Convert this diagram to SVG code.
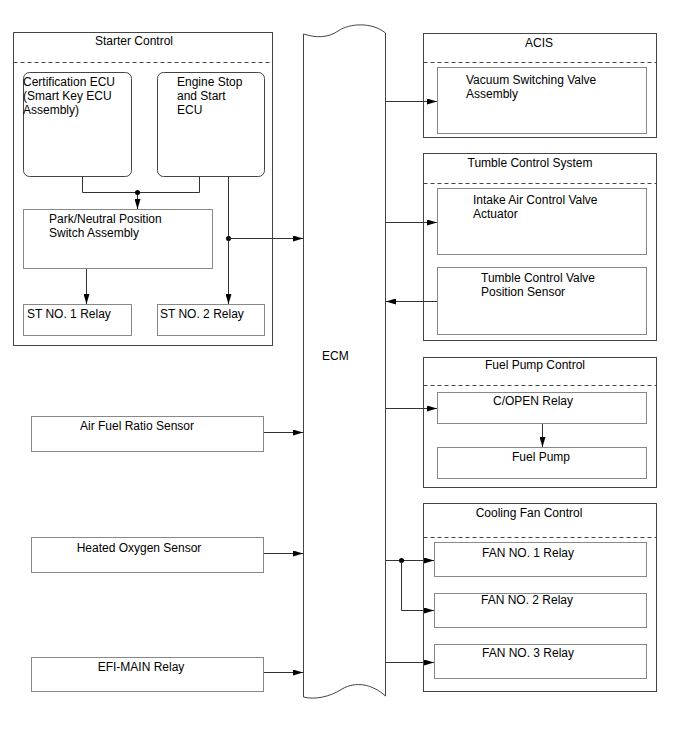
<svg xmlns="http://www.w3.org/2000/svg" width="688" height="755" viewBox="0 0 688 755">
<style>
text{font-family:"Liberation Sans",Arial,sans-serif;font-size:12px;fill:#000}
.c{text-anchor:middle}
.grp{fill:#fff;stroke:#444;stroke-width:1}
.dash{stroke:#444;stroke-width:1;stroke-dasharray:4,3;fill:none}
.box{fill:#fff;stroke:#888;stroke-width:1}
.rbox{fill:#fff;stroke:#444;stroke-width:1}
.ln{stroke:#333;stroke-width:1;fill:none}
.dot{fill:#000}
</style>
<defs>
<marker id="ah" viewBox="0 0 10 6" refX="10" refY="3" markerWidth="10" markerHeight="6" markerUnits="userSpaceOnUse" orient="auto">
<path d="M0,0 L10,3 L0,6 z" fill="#000"/>
</marker>
</defs>
<rect width="688" height="755" fill="#fff"/>

<g id="starter-control">
<rect class="grp" x="13.5" y="32.5" width="259" height="313"/>
<line class="dash" x1="13.5" y1="62.5" x2="272.5" y2="62.5"/>
<text class="c" x="134" y="45">Starter Control</text>
</g>
<g id="cert-ecu">
<rect class="rbox" x="23.5" y="72.5" width="108" height="104" rx="6"/>
<text x="23" y="86">Certification ECU</text>
<text x="23" y="100">(Smart Key ECU</text>
<text x="23" y="114">Assembly)</text>
</g>
<g id="engine-stop-ecu">
<rect class="rbox" x="157.5" y="72.5" width="107" height="104" rx="6"/>
<text x="177" y="86">Engine Stop</text>
<text x="177" y="100">and Start</text>
<text x="177" y="114">ECU</text>
</g>
<g id="park-neutral">
<rect class="box" x="23.5" y="209.5" width="189" height="59"/>
<text x="49" y="223">Park/Neutral Position</text>
<text x="49" y="237">Switch Assembly</text>
</g>
<g id="st1">
<rect class="box" x="23.5" y="304.5" width="108" height="31"/>
<text x="27" y="318">ST NO. 1 Relay</text>
</g>
<g id="st2">
<rect class="box" x="157.5" y="304.5" width="107" height="31"/>
<text x="160" y="318">ST NO. 2 Relay</text>
</g>

<g id="ecm">
<path d="M303.5,34 C316,38 328,38 338,31 C350,23 372,22 385.5,33 L385.5,696 C372,684 356,681 342,689 C330,697 314,700 303.5,697 Z" fill="#fff" stroke="#444" stroke-width="1"/>
<text x="322" y="360">ECM</text>
</g>

<g id="air-fuel">
<rect class="box" x="31.5" y="416.5" width="232" height="35"/>
<text class="c" x="137" y="430">Air Fuel Ratio Sensor</text>
</g>
<g id="heated-o2">
<rect class="box" x="31.5" y="537.5" width="232" height="35"/>
<text class="c" x="139" y="552">Heated Oxygen Sensor</text>
</g>
<g id="efi-main">
<rect class="box" x="31.5" y="657.5" width="232" height="34"/>
<text class="c" x="141" y="671">EFI-MAIN Relay</text>
</g>

<g id="acis">
<rect class="grp" x="423.5" y="33.5" width="233" height="104"/>
<line class="dash" x1="423.5" y1="62.5" x2="656.5" y2="62.5"/>
<text class="c" x="539" y="47">ACIS</text>
</g>
<g id="vsv">
<rect class="box" x="437.5" y="67.5" width="209" height="66"/>
<text x="466" y="84">Vacuum Switching Valve</text>
<text x="466" y="98">Assembly</text>
</g>

<g id="tumble">
<rect class="grp" x="423.5" y="153.5" width="233" height="187"/>
<line class="dash" x1="423.5" y1="183.5" x2="656.5" y2="183.5"/>
<text class="c" x="530" y="167">Tumble Control System</text>
</g>
<g id="intake-air">
<rect class="box" x="437.5" y="188.5" width="209" height="66"/>
<text x="473" y="204">Intake Air Control Valve</text>
<text x="473" y="218">Actuator</text>
</g>
<g id="tumble-sensor">
<rect class="box" x="437.5" y="267.5" width="209" height="67"/>
<text x="481" y="282">Tumble Control Valve</text>
<text x="481" y="296">Position Sensor</text>
</g>

<g id="fuel-pump-control">
<rect class="grp" x="423.5" y="357.5" width="233" height="130"/>
<line class="dash" x1="423.5" y1="385.5" x2="656.5" y2="385.5"/>
<text class="c" x="535" y="369">Fuel Pump Control</text>
</g>
<g id="copen">
<rect class="box" x="437.5" y="392.5" width="209" height="31"/>
<text class="c" x="533" y="405">C/OPEN Relay</text>
</g>
<g id="fuel-pump">
<rect class="box" x="437.5" y="447.5" width="209" height="31"/>
<text class="c" x="541" y="461">Fuel Pump</text>
</g>

<g id="cooling-fan">
<rect class="grp" x="423.5" y="503.5" width="233" height="188"/>
<line class="dash" x1="423.5" y1="537.5" x2="656.5" y2="537.5"/>
<text class="c" x="529" y="517">Cooling Fan Control</text>
</g>
<g id="fan1">
<rect class="box" x="434.5" y="542.5" width="212" height="34"/>
<text class="c" x="528" y="557">FAN NO. 1 Relay</text>
</g>
<g id="fan2">
<rect class="box" x="434.5" y="593.5" width="212" height="34"/>
<text class="c" x="527" y="604">FAN NO. 2 Relay</text>
</g>
<g id="fan3">
<rect class="box" x="434.5" y="644.5" width="212" height="34"/>
<text class="c" x="528" y="657">FAN NO. 3 Relay</text>
</g>

<g id="connectors">
<polyline class="ln" points="82.5,177 82.5,192.5 199.5,192.5 199.5,177"/>
<line class="ln" x1="137.5" y1="192.5" x2="137.5" y2="209" marker-end="url(#ah)"/>
<circle class="dot" cx="137.5" cy="192.5" r="2.5"/>
<line class="ln" x1="228.5" y1="177" x2="228.5" y2="304" marker-end="url(#ah)"/>
<circle class="dot" cx="228.5" cy="238.5" r="2.5"/>
<line class="ln" x1="228.5" y1="238.5" x2="303" y2="238.5" marker-end="url(#ah)"/>
<line class="ln" x1="86.5" y1="269" x2="86.5" y2="304" marker-end="url(#ah)"/>

<line class="ln" x1="264" y1="432.5" x2="303" y2="432.5" marker-end="url(#ah)"/>
<line class="ln" x1="264" y1="553.5" x2="303" y2="553.5" marker-end="url(#ah)"/>
<line class="ln" x1="264" y1="672.5" x2="303" y2="672.5" marker-end="url(#ah)"/>

<line class="ln" x1="386" y1="101.5" x2="437" y2="101.5" marker-end="url(#ah)"/>
<line class="ln" x1="386" y1="222.5" x2="437" y2="222.5" marker-end="url(#ah)"/>
<line class="ln" x1="437" y1="301.5" x2="386" y2="301.5" marker-end="url(#ah)"/>
<line class="ln" x1="386" y1="408.5" x2="437" y2="408.5" marker-end="url(#ah)"/>
<line class="ln" x1="542.5" y1="424" x2="542.5" y2="447" marker-end="url(#ah)"/>

<line class="ln" x1="386" y1="560.5" x2="434" y2="560.5" marker-end="url(#ah)"/>
<circle class="dot" cx="401.5" cy="560.5" r="2.5"/>
<polyline class="ln" points="401.5,560.5 401.5,610.5 434,610.5" marker-end="url(#ah)"/>
<line class="ln" x1="386" y1="662.5" x2="434" y2="662.5" marker-end="url(#ah)"/>
</g>
</svg>
